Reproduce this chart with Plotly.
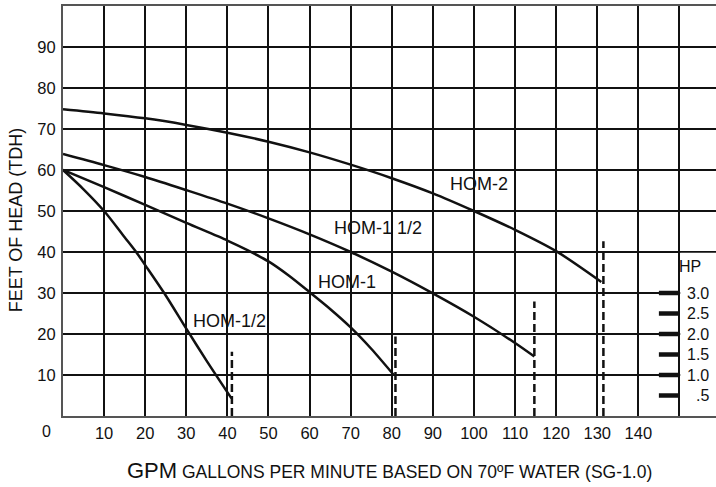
import plotly.graph_objects as go

# ---------------- data ----------------
hom_half_gpm = [0, 5, 10, 15, 17.8, 20, 25, 30, 35, 41]
hom_half_head = [60, 55.3, 50, 43.6, 40, 36.8, 29.4, 21.3, 13.4, 4.3]

hom_1_gpm = [0, 10, 20, 30, 40, 45, 50, 55, 60, 65, 70, 75, 80.5]
hom_1_head = [60, 55.8, 51.5, 47.1, 42.8, 40.4, 37.7, 34.2, 30.2, 26.1, 21.6, 16.4, 10]

hom_1half_gpm = [0, 10, 20, 30, 40, 50, 60, 70, 80, 90, 100, 110, 114.7]
hom_1half_head = [63.9, 61.2, 58.3, 55.1, 51.8, 48.2, 44.3, 40, 35.2, 29.9, 24.2, 17.8, 14.5]

hom_2_gpm = [0, 10, 20, 30, 40, 50, 60, 70, 80, 90, 100, 110, 120, 131]
hom_2_head = [74.8, 73.8, 72.6, 71, 69.1, 66.9, 64.3, 61.3, 58.0, 54.3, 50, 45.4, 40.2, 32.7]

curve_names = ["HOM-1/2", "HOM-1", "HOM-1 1/2", "HOM-2"]
label_gpm = [40.6, 69.1, 76.6, 101.2]
label_head = [23.1, 32.7, 45.9, 56.5]

cutoff_gpm = [41.1, 80.9, 114.7, 131.5]
cutoff_top = [15.7, 19.4, 27.9, 42.6]

hp_values = [0.5, 1.0, 1.5, 2.0, 2.5, 3.0]
hp_labels = [".5", "1.0", "1.5", "2.0", "2.5", "3.0"]

x_ticks = [10, 20, 30, 40, 50, 60, 70, 80, 90, 100, 110, 120, 130, 140, 150]
x_tick_text = ["10", "20", "30", "40", "50", "60", "70", "80", "90", "100",
               "110", "120", "130", "140", ""]
y_ticks = [10, 20, 30, 40, 50, 60, 70, 80, 90]
y_tick_text = ["10", "20", "30", "40", "50", "60", "70", "80", "90"]

FONT = "Liberation Sans, Arial, Helvetica, sans-serif"
INK = "#111111"

fig = go.Figure()

# white panel behind the HP scale (hides grid lines there)
fig.add_trace(go.Scatter(
    x=[150.2, 161, 161, 150.2], y=[0.25, 0.25, 39.8, 39.8],
    fill="toself", fillcolor="white", mode="none",
    hoverinfo="skip", showlegend=False))

# pump curves
for gx, hy in [(hom_half_gpm, hom_half_head), (hom_1_gpm, hom_1_head),
               (hom_1half_gpm, hom_1half_head), (hom_2_gpm, hom_2_head)]:
    fig.add_trace(go.Scatter(
        x=gx, y=hy, mode="lines",
        line=dict(color=INK, width=2.5, shape="spline", smoothing=0.8),
        showlegend=False, hoverinfo="skip"))

# dashed cut-off lines
for cx, ct in zip(cutoff_gpm, cutoff_top):
    fig.add_trace(go.Scatter(
        x=[cx, cx], y=[0, ct], mode="lines",
        line=dict(color=INK, width=2.5, dash="8px,4px"),
        showlegend=False, hoverinfo="skip"))

# HP scale bars
bx, by = [], []
for hp in hp_values:
    bx += [145, 150, None]
    by += [hp * 10, hp * 10, None]
fig.add_trace(go.Scatter(
    x=bx, y=by, mode="lines", line=dict(color=INK, width=4.5),
    showlegend=False, hoverinfo="skip"))

annotations = []
for name, lx, ly in zip(curve_names, label_gpm, label_head):
    annotations.append(dict(x=lx, y=ly, text=name, showarrow=False,
                            xanchor="center", yanchor="middle",
                            font=dict(family=FONT, size=18, color=INK)))
for hp, txt in zip(hp_values, hp_labels):
    annotations.append(dict(x=157.8, y=hp * 10, text=txt, showarrow=False,
                            xanchor="right", yanchor="middle",
                            font=dict(family=FONT, size=16, color=INK)))
annotations.append(dict(x=152.5, y=36.4, text="HP", showarrow=False,
                        xanchor="center", yanchor="middle",
                        font=dict(family=FONT, size=16, color=INK)))
# corner zero
annotations.append(dict(xref="paper", yref="paper", x=-0.025, y=-0.037,
                        text="0", showarrow=False,
                        xanchor="center", yanchor="middle",
                        font=dict(family=FONT, size=16, color=INK)))
# axis titles
annotations.append(dict(xref="paper", yref="paper", x=-0.0724, y=0.479,
                        text="FEET OF HEAD (TDH)", textangle=-90,
                        showarrow=False, xanchor="center", yanchor="middle",
                        font=dict(family=FONT, size=18, color=INK)))
annotations.append(dict(xref="paper", yref="paper", x=0.5, y=-0.132,
                        text="<span style='font-size:22px'>GPM</span> GALLONS PER MINUTE BASED ON 70ºF WATER (SG-1.0)",
                        showarrow=False, xanchor="center", yanchor="middle",
                        font=dict(family=FONT, size=17.5, color=INK)))

fig.update_layout(
    width=716, height=487, autosize=False,
    margin=dict(l=63, r=0, t=6, b=71, autoexpand=False),
    paper_bgcolor="white", plot_bgcolor="white",
    showlegend=False,
    annotations=annotations,
    xaxis=dict(range=[0, 158.9], tickvals=x_ticks, ticktext=x_tick_text,
               showgrid=True, gridcolor=INK, gridwidth=1.6,
               zeroline=False, showline=True, linecolor="#555555", linewidth=2,
               mirror=True, ticks="", ticklabelstandoff=1, automargin=False,
               tickfont=dict(family=FONT, size=16.5, color=INK), fixedrange=True),
    yaxis=dict(range=[0, 100], tickvals=y_ticks, ticktext=y_tick_text,
               showgrid=True, gridcolor=INK, gridwidth=1.6,
               zeroline=False, showline=True, linecolor="#555555", linewidth=2,
               ticks="", ticklabelstandoff=2, automargin=False,
               tickfont=dict(family=FONT, size=16.5, color=INK), fixedrange=True),
)

fig.write_html("out.html", config={"displayModeBar": False},
               post_script="document.body.style.margin='0px';document.body.style.overflow='hidden';")
